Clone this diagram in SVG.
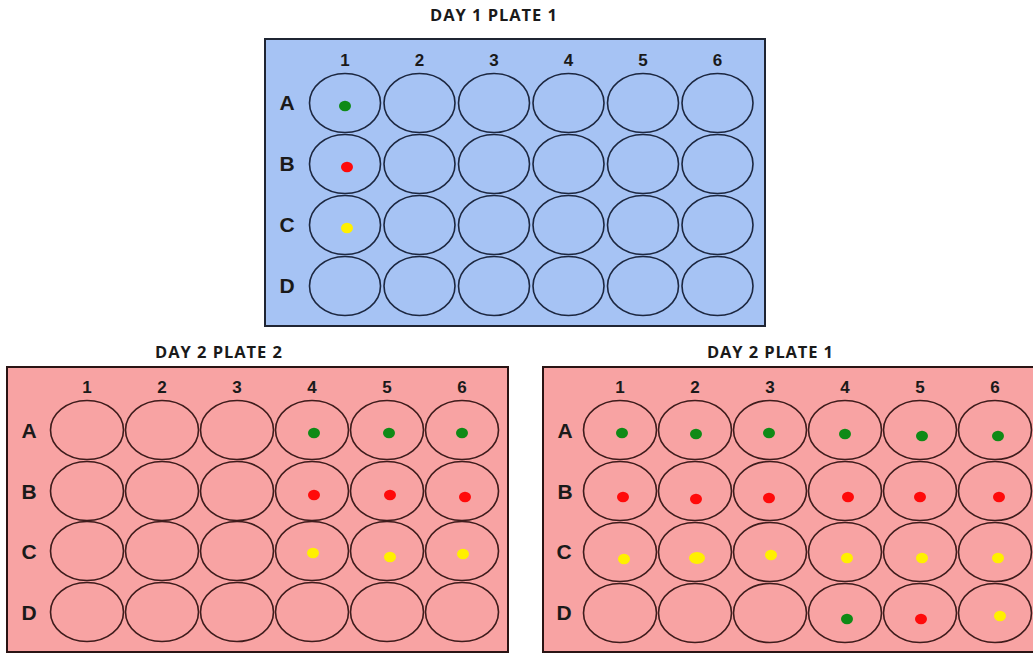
<svg xmlns="http://www.w3.org/2000/svg" xmlns:xlink="http://www.w3.org/1999/xlink" width="1033" height="653" viewBox="0 0 1033 653">
  <style>
    .title { font-family: "Open Sans", "Liberation Sans", sans-serif; font-weight: 700; font-size: 16.5px; fill: #1a1a1a; text-anchor: middle; }
    .col { font-family: "Liberation Sans", Arial, sans-serif; font-weight: 700; font-size: 17px; fill: #1a1a1a; text-anchor: middle; }
    .row { font-family: "Liberation Sans", Arial, sans-serif; font-weight: 700; font-size: 21px; fill: #1a1a1a; text-anchor: middle; }
    .plate-blue { fill: #a6c3f4; stroke: #1f2533; stroke-width: 2; }
    .plate-pink { fill: #f8a3a3; stroke: #2a1414; stroke-width: 2; }
    .well-blue { fill: none; stroke: #1c2740; stroke-width: 1.6; }
    .well-pink { fill: none; stroke: #3e1c1c; stroke-width: 1.6; }
    .g { fill: #0f8a16; }
    .r { fill: #ff0a0a; }
    .y { fill: #fff000; }
  </style>
  <defs>
    <ellipse id="wellS" cx="0" cy="0" rx="35.5" ry="29.5"/>
    <ellipse id="wellL" cx="0" cy="0" rx="36.5" ry="29.5"/>
    <ellipse id="dot" cx="0" cy="0" rx="6" ry="5.3"/>
  </defs>

  <rect width="1033" height="653" fill="#ffffff"/>

  <!-- Day 1, plate 1 -->
  <g id="day1-plate1">
    <text class="title" x="493.5" y="21" textLength="127" lengthAdjust="spacing">DAY 1 PLATE 1</text>
    <rect class="plate-blue" x="265" y="39" width="500" height="287"/>
    <g class="col">
      <text x="345" y="66">1</text><text x="419.5" y="66">2</text><text x="494" y="66">3</text>
      <text x="568.5" y="66">4</text><text x="643" y="66">5</text><text x="717.5" y="66">6</text>
    </g>
    <g class="row">
      <text x="287" y="110">A</text><text x="287" y="171">B</text>
      <text x="287" y="232">C</text><text x="287" y="293">D</text>
    </g>
    <g class="well-blue">
      <use xlink:href="#wellS" x="345" y="103"/><use xlink:href="#wellS" x="419.5" y="103"/><use xlink:href="#wellS" x="494" y="103"/>
      <use xlink:href="#wellS" x="568.5" y="103"/><use xlink:href="#wellS" x="643" y="103"/><use xlink:href="#wellS" x="717.5" y="103"/>
      <use xlink:href="#wellS" x="345" y="164"/><use xlink:href="#wellS" x="419.5" y="164"/><use xlink:href="#wellS" x="494" y="164"/>
      <use xlink:href="#wellS" x="568.5" y="164"/><use xlink:href="#wellS" x="643" y="164"/><use xlink:href="#wellS" x="717.5" y="164"/>
      <use xlink:href="#wellS" x="345" y="225"/><use xlink:href="#wellS" x="419.5" y="225"/><use xlink:href="#wellS" x="494" y="225"/>
      <use xlink:href="#wellS" x="568.5" y="225"/><use xlink:href="#wellS" x="643" y="225"/><use xlink:href="#wellS" x="717.5" y="225"/>
      <use xlink:href="#wellS" x="345" y="286"/><use xlink:href="#wellS" x="419.5" y="286"/><use xlink:href="#wellS" x="494" y="286"/>
      <use xlink:href="#wellS" x="568.5" y="286"/><use xlink:href="#wellS" x="643" y="286"/><use xlink:href="#wellS" x="717.5" y="286"/>
    </g>
    <use class="g" xlink:href="#dot" x="345" y="106"/>
    <use class="r" xlink:href="#dot" x="347" y="167"/>
    <use class="y" xlink:href="#dot" x="347" y="228"/>
  </g>

  <!-- Day 2, plate 2 -->
  <g id="day2-plate2">
    <text class="title" x="218.5" y="358" textLength="127" lengthAdjust="spacing">DAY 2 PLATE 2</text>
    <rect class="plate-pink" x="7" y="367" width="501" height="285"/>
    <g class="col">
      <text x="87" y="393">1</text><text x="162" y="393">2</text><text x="237" y="393">3</text>
      <text x="312" y="393">4</text><text x="387" y="393">5</text><text x="462" y="393">6</text>
    </g>
    <g class="row">
      <text x="29" y="438">A</text><text x="29" y="499">B</text>
      <text x="29" y="559">C</text><text x="29" y="620">D</text>
    </g>
    <g class="well-pink">
      <use xlink:href="#wellL" x="87" y="430"/><use xlink:href="#wellL" x="162" y="430"/><use xlink:href="#wellL" x="237" y="430"/>
      <use xlink:href="#wellL" x="312" y="430"/><use xlink:href="#wellL" x="387" y="430"/><use xlink:href="#wellL" x="462" y="430"/>
      <use xlink:href="#wellL" x="87" y="491"/><use xlink:href="#wellL" x="162" y="491"/><use xlink:href="#wellL" x="237" y="491"/>
      <use xlink:href="#wellL" x="312" y="491"/><use xlink:href="#wellL" x="387" y="491"/><use xlink:href="#wellL" x="462" y="491"/>
      <use xlink:href="#wellL" x="87" y="551"/><use xlink:href="#wellL" x="162" y="551"/><use xlink:href="#wellL" x="237" y="551"/>
      <use xlink:href="#wellL" x="312" y="551"/><use xlink:href="#wellL" x="387" y="551"/><use xlink:href="#wellL" x="462" y="551"/>
      <use xlink:href="#wellL" x="87" y="612"/><use xlink:href="#wellL" x="162" y="612"/><use xlink:href="#wellL" x="237" y="612"/>
      <use xlink:href="#wellL" x="312" y="612"/><use xlink:href="#wellL" x="387" y="612"/><use xlink:href="#wellL" x="462" y="612"/>
    </g>
    <use class="g" xlink:href="#dot" x="314" y="433"/>
    <use class="g" xlink:href="#dot" x="389" y="433"/>
    <use class="g" xlink:href="#dot" x="462" y="433"/>
    <use class="r" xlink:href="#dot" x="314" y="495"/>
    <use class="r" xlink:href="#dot" x="390" y="495"/>
    <use class="r" xlink:href="#dot" x="465" y="497"/>
    <use class="y" xlink:href="#dot" x="313" y="553"/>
    <use class="y" xlink:href="#dot" x="390" y="557"/>
    <use class="y" xlink:href="#dot" x="463" y="554"/>
  </g>

  <!-- Day 2, plate 1 -->
  <g id="day2-plate1">
    <text class="title" x="770" y="358" textLength="126" lengthAdjust="spacing">DAY 2 PLATE 1</text>
    <rect class="plate-pink" x="543" y="367" width="500" height="285"/>
    <g class="col">
      <text x="620" y="393">1</text><text x="695" y="393">2</text><text x="770" y="393">3</text>
      <text x="845" y="393">4</text><text x="920" y="393">5</text><text x="995" y="393">6</text>
    </g>
    <g class="row">
      <text x="565" y="438">A</text><text x="565" y="499">B</text>
      <text x="564" y="559">C</text><text x="564" y="620">D</text>
    </g>
    <g class="well-pink">
      <use xlink:href="#wellL" x="620" y="430"/><use xlink:href="#wellL" x="695" y="430"/><use xlink:href="#wellL" x="770" y="430"/>
      <use xlink:href="#wellL" x="845" y="430"/><use xlink:href="#wellL" x="920" y="430"/><use xlink:href="#wellL" x="995" y="430"/>
      <use xlink:href="#wellL" x="620" y="491"/><use xlink:href="#wellL" x="695" y="491"/><use xlink:href="#wellL" x="770" y="491"/>
      <use xlink:href="#wellL" x="845" y="491"/><use xlink:href="#wellL" x="920" y="491"/><use xlink:href="#wellL" x="995" y="491"/>
      <use xlink:href="#wellL" x="620" y="552"/><use xlink:href="#wellL" x="695" y="552"/><use xlink:href="#wellL" x="770" y="552"/>
      <use xlink:href="#wellL" x="845" y="552"/><use xlink:href="#wellL" x="920" y="552"/><use xlink:href="#wellL" x="995" y="552"/>
      <use xlink:href="#wellL" x="620" y="613"/><use xlink:href="#wellL" x="695" y="613"/><use xlink:href="#wellL" x="770" y="613"/>
      <use xlink:href="#wellL" x="845" y="613"/><use xlink:href="#wellL" x="920" y="613"/><use xlink:href="#wellL" x="995" y="613"/>
    </g>
    <use class="g" xlink:href="#dot" x="622" y="433"/>
    <use class="g" xlink:href="#dot" x="696" y="434"/>
    <use class="g" xlink:href="#dot" x="769" y="433"/>
    <use class="g" xlink:href="#dot" x="845" y="434"/>
    <use class="g" xlink:href="#dot" x="922" y="436"/>
    <use class="g" xlink:href="#dot" x="998" y="436"/>
    <use class="r" xlink:href="#dot" x="623" y="497"/>
    <use class="r" xlink:href="#dot" x="696" y="499"/>
    <use class="r" xlink:href="#dot" x="769" y="498"/>
    <use class="r" xlink:href="#dot" x="848" y="497"/>
    <use class="r" xlink:href="#dot" x="920" y="497"/>
    <use class="r" xlink:href="#dot" x="999" y="497"/>
    <use class="y" xlink:href="#dot" x="624" y="559"/>
    <ellipse class="y" cx="697" cy="558" rx="8" ry="6"/>
    <use class="y" xlink:href="#dot" x="771" y="555"/>
    <use class="y" xlink:href="#dot" x="847" y="558"/>
    <use class="y" xlink:href="#dot" x="922" y="558"/>
    <use class="y" xlink:href="#dot" x="998" y="558"/>
    <use class="g" xlink:href="#dot" x="847" y="619"/>
    <use class="r" xlink:href="#dot" x="921" y="619"/>
    <use class="y" xlink:href="#dot" x="1000" y="616"/>
  </g>
</svg>
